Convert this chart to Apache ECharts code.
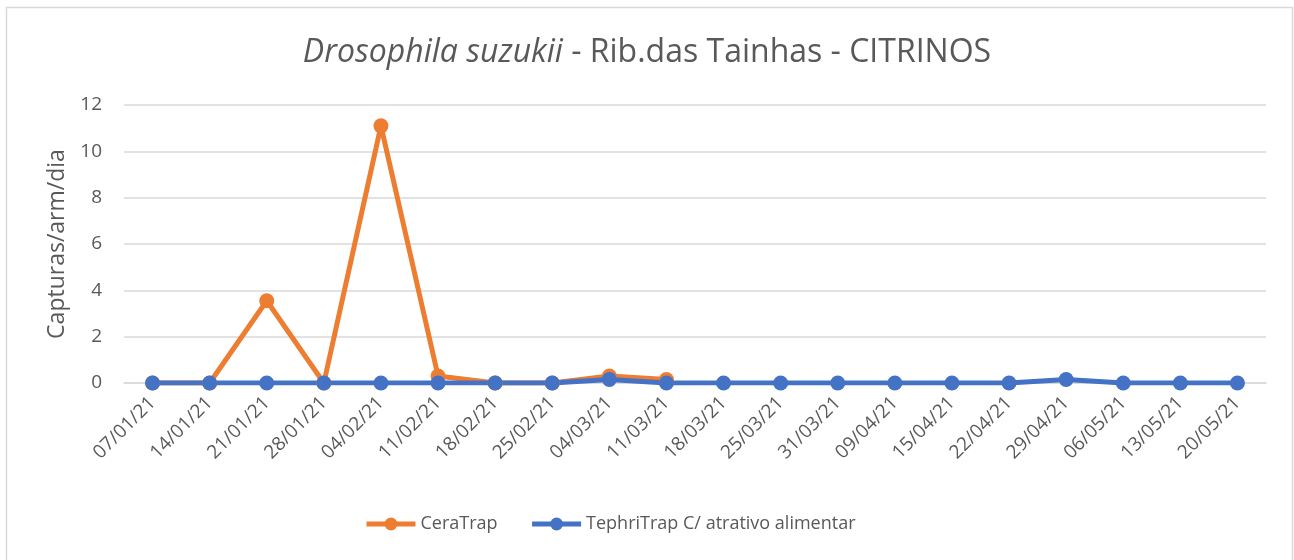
<!DOCTYPE html>
<html><head><meta charset="utf-8">
<script src="https://cdn.jsdelivr.net/npm/echarts@6/dist/echarts.min.js"></script>
<style>html,body{margin:0;padding:0;background:#fff}#c{width:1294px;height:560px}</style>
</head><body><div id="c"></div>
<script>
const categories = ['07/01/21','14/01/21','21/01/21','28/01/21','04/02/21','11/02/21','18/02/21','25/02/21','04/03/21','11/03/21','18/03/21','25/03/21','31/03/21','09/04/21','15/04/21','22/04/21','29/04/21','06/05/21','13/05/21','20/05/21'];
const ceraTrap = [0, 0, 3.55, 0, 11.1, 0.3, 0, 0, 0.3, 0.15, null, null, null, null, null, null, null, null, null, null];
const tephriTrap = [0, 0, 0, 0, 0, 0, 0, 0, 0.15, 0, 0, 0, 0, 0, 0, 0, 0.15, 0, 0, 0];
const yTicks = [0, 2, 4, 6, 8, 10, 12];

const font = 'Open Sans';
const chart = echarts.init(document.getElementById('c'));
chart.setOption({
  animation: false,
  graphic: [{type:'rect', shape:{x:6.5,y:7.5,width:1286,height:560}, style:{fill:'none', stroke:'#d9d9d9', lineWidth:1.5}, silent:true}],
  title: {
    text: '{i|Drosophila suzukii}{n| - Rib.das Tainhas - CITRINOS}',
    left: 'center', top: 32,
    textStyle: { fontWeight: 'normal', rich: {
      i: {fontFamily: font, fontSize: 32, fontStyle: 'italic', fontWeight: 'normal', color: '#595959'},
      n: {fontFamily: font, fontSize: 32, fontWeight: 'normal', color: '#595959'}
    }}
  },
  legend: {
    bottom: 22, left: 359, itemWidth: 49, itemHeight: 16, itemGap: 32,
    lineStyle: {width: 5},
    textStyle: {fontFamily: font, fontSize: 18, color: '#595959'},
    data: ['CeraTrap', 'TephriTrap C/ atrativo alimentar']
  },
  grid: {left: 124, right: 28, top: 105, bottom: 177},
  xAxis: {
    type: 'category', data: categories, boundaryGap: true,
    axisLine: {lineStyle: {color: '#d9d9d9', width: 1.5}},
    axisTick: {show: false},
    axisLabel: {rotate: 45, fontFamily: font, fontSize: 19, color: '#595959', margin: 17, interval: 0}
  },
  yAxis: {
    type: 'value', min: yTicks[0], max: yTicks[yTicks.length-1], interval: 2,
    name: 'Capturas/arm/dia', nameLocation: 'middle', nameGap: 55,
    nameTextStyle: {fontFamily: font, fontSize: 23, color: '#595959'},
    axisLine: {show: false}, axisTick: {show: false},
    axisLabel: {fontFamily: font, fontSize: 19, color: '#595959', margin: 22},
    splitLine: {lineStyle: {color: '#d9d9d9', width: 1.5}}
  },
  series: [
    {name: 'CeraTrap', type: 'line', data: ceraTrap, symbol: 'circle', symbolSize: 15,
     lineStyle: {color: '#ed7d31', width: 5}, itemStyle: {color: '#ed7d31'}},
    {name: 'TephriTrap C/ atrativo alimentar', type: 'line', data: tephriTrap, symbol: 'circle', symbolSize: 15,
     lineStyle: {color: '#4472c4', width: 5}, itemStyle: {color: '#4472c4'}}
  ]
});
</script></body></html>
